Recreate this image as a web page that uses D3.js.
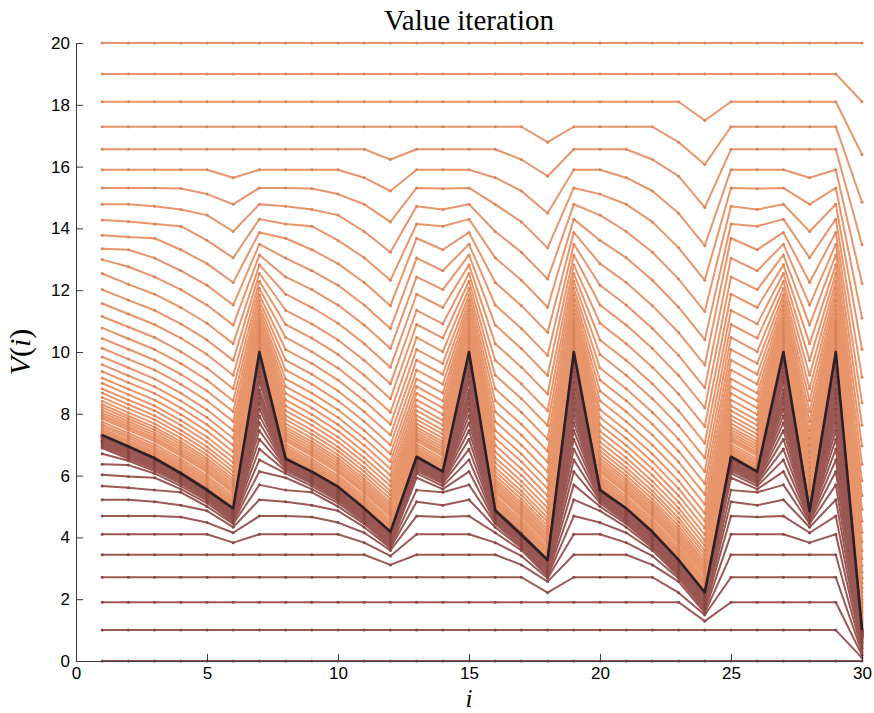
<!DOCTYPE html>
<html>
<head>
<meta charset="utf-8">
<script src="https://cdn.jsdelivr.net/npm/d3@7/dist/d3.min.js"></script>
<style>
    body { margin: 0; background: #fff; }
    .axis text { font-family: "Liberation Sans", Arial, sans-serif; font-size: 17px; fill: #000; }
    .axis path, .axis line { stroke: #3a3a3a; }
    .label { font-family: "Liberation Serif", "Times New Roman", serif; fill: #000; }
</style>
</head>
<body>
<div id="chart"></div>
<script>

// state index i
let states = [1, 2, 3, 4, 5, 6, 7, 8, 9, 10, 11, 12, 13, 14, 15, 16, 17, 18, 19, 20, 21, 22, 23, 24, 25, 26, 27, 28, 29, 30];

let xTicks = [0, 5, 10, 15, 20, 25, 30];
let yTicks = [0, 2, 4, 6, 8, 10, 12, 14, 16, 18, 20];

// converged value V*(i)
let vStar = [7.31, 6.94, 6.56, 6.07, 5.53, 4.94, 10, 6.54, 6.13, 5.64, 4.94, 4.18, 6.61, 6.13, 10, 4.87, 4.08, 3.27, 10, 5.53, 4.94, 4.18, 3.27, 2.22, 6.61, 6.13, 10, 4.85, 10, 1.0];

// iterates started from V = 20
let fromAbove = [
    [20,20,20,20,20,20,20,20,20,20,20,20,20,20,20,20,20,20,20,20,20,20,20,20,20,20,20,20,20,20],
    [19,19,19,19,19,19,19,19,19,19,19,19,19,19,19,19,19,19,19,19,19,19,19,19,19,19,19,19,19,18.1],
    [18.1,18.1,18.1,18.1,18.1,18.1,18.1,18.1,18.1,18.1,18.1,18.1,18.1,18.1,18.1,18.1,18.1,18.1,18.1,18.1,18.1,18.1,18.1,17.49,18.1,18.1,18.1,18.1,18.1,16.39],
    [17.29,17.29,17.29,17.29,17.29,17.29,17.29,17.29,17.29,17.29,17.29,17.29,17.29,17.29,17.29,17.29,17.29,16.79,17.29,17.29,17.29,17.29,16.79,16.07,17.29,17.29,17.29,17.29,17.29,14.85],
    [16.56,16.56,16.56,16.56,16.56,16.56,16.56,16.56,16.56,16.56,16.56,16.23,16.56,16.56,16.56,16.56,16.23,15.69,16.56,16.56,16.56,16.23,15.69,14.68,16.56,16.56,16.56,16.56,16.56,13.47],
    [15.9,15.9,15.9,15.9,15.9,15.64,15.9,15.9,15.9,15.9,15.64,15.21,15.9,15.9,15.9,15.64,15.21,14.49,15.9,15.9,15.64,15.21,14.49,13.44,15.9,15.9,15.9,15.64,15.9,12.22],
    [15.31,15.31,15.31,15.29,15.11,14.78,15.31,15.31,15.29,15.11,14.78,14.21,15.31,15.29,15.31,14.78,14.21,13.37,15.31,15.11,14.78,14.21,13.37,12.32,15.31,15.29,15.31,14.78,15.31,11.1],
    [14.78,14.78,14.72,14.61,14.43,13.9,14.78,14.72,14.61,14.43,13.9,13.23,14.72,14.61,14.78,13.9,13.23,12.36,14.78,14.43,13.9,13.23,12.36,11.31,14.72,14.61,14.78,13.9,14.78,10.09],
    [14.27,14.22,14.14,14.07,13.61,13.05,14.3,14.14,14.07,13.61,13.05,12.32,14.14,14.07,14.3,13.05,12.32,11.45,14.3,13.61,13.05,12.32,11.45,10.4,14.14,14.07,14.3,13.05,14.3,9.18],
    [13.78,13.72,13.68,13.31,12.86,12.25,13.87,13.68,13.31,12.86,12.25,11.5,13.68,13.31,13.87,12.25,11.5,10.63,13.87,12.86,12.25,11.5,10.63,9.58,13.68,13.31,13.87,12.25,13.87,8.36],
    [13.34,13.31,13.04,12.63,12.16,11.52,13.49,13.04,12.63,12.16,11.52,10.76,13.04,12.63,13.49,11.52,10.76,9.89,13.49,12.16,11.52,10.76,9.89,8.84,13.04,12.63,13.49,11.52,13.49,7.63],
    [12.99,12.76,12.43,12.02,11.52,10.87,13.14,12.43,12.02,11.52,10.87,10.11,12.43,12.02,13.14,10.87,10.11,9.24,13.14,11.52,10.87,10.11,9.24,8.19,12.43,12.02,13.14,10.87,13.14,6.96],
    [12.54,12.19,11.87,11.44,10.93,10.27,12.82,11.87,11.44,10.93,10.27,9.51,11.87,11.44,12.82,10.27,9.51,8.64,12.82,10.93,10.27,9.51,8.64,7.59,11.87,11.44,12.82,10.27,12.82,6.37],
    [12.02,11.68,11.35,10.91,10.39,9.73,12.54,11.35,10.91,10.39,9.73,8.97,11.35,10.91,12.54,9.73,8.97,8.1,12.54,10.39,9.73,8.97,8.1,7.05,11.35,10.91,12.54,9.73,12.54,5.83],
    [11.57,11.23,10.89,10.45,9.92,9.25,12.29,10.89,10.45,9.92,9.25,8.49,10.89,10.45,12.29,9.25,8.49,7.62,12.29,9.92,9.25,8.49,7.62,6.57,10.89,10.45,12.29,9.25,12.29,5.35],
    [11.15,10.81,10.47,10.01,9.48,8.81,12.06,10.47,10.01,9.48,8.81,8.05,10.47,10.01,12.06,8.81,8.05,7.18,12.06,9.48,8.81,8.05,7.18,6.13,10.47,10.01,12.06,8.81,12.06,4.91],
    [10.78,10.43,10.08,9.63,9.09,8.42,11.85,10.08,9.63,9.09,8.42,7.66,10.08,9.63,11.85,8.42,7.66,6.79,11.85,9.09,8.42,7.66,6.79,5.74,10.08,9.63,11.85,8.42,11.85,4.52],
    [10.44,10.09,9.74,9.28,8.74,8.07,11.67,9.74,9.28,8.74,8.07,7.31,9.74,9.28,11.67,8.07,7.31,6.44,11.67,8.74,8.07,7.31,6.44,5.39,9.74,9.28,11.67,8.07,11.67,4.17],
    [10.12,9.77,9.42,8.96,8.42,7.75,11.5,9.42,8.96,8.42,7.75,6.99,9.42,8.96,11.5,7.75,6.99,6.12,11.5,8.42,7.75,6.99,6.12,5.07,9.42,8.96,11.5,7.75,11.5,3.85],
    [9.84,9.49,9.13,8.67,8.13,7.46,11.35,9.13,8.67,8.13,7.46,6.7,9.13,8.67,11.35,7.46,6.7,5.83,11.35,8.13,7.46,6.7,5.83,4.78,9.13,8.67,11.35,7.46,11.35,3.57],
    [9.59,9.23,8.88,8.42,7.88,7.21,11.22,8.88,8.42,7.88,7.21,6.45,8.88,8.42,11.22,7.21,6.45,5.58,11.22,7.88,7.21,6.45,5.58,4.53,8.88,8.42,11.22,7.21,11.22,3.31],
    [9.37,9.01,8.66,8.19,7.65,6.98,11.09,8.66,8.19,7.65,6.98,6.22,8.66,8.19,11.09,6.98,6.22,5.35,11.09,7.65,6.98,6.22,5.35,4.3,8.66,8.19,11.09,6.98,11.09,3.08],
    [9.16,8.8,8.45,7.98,7.44,6.77,10.99,8.45,7.98,7.44,6.77,6.01,8.45,7.98,10.99,6.77,6.01,5.14,10.99,7.44,6.77,6.01,5.14,4.09,8.45,7.98,10.99,6.77,10.99,2.87],
    [8.99,8.62,8.26,7.79,7.25,6.58,10.89,8.26,7.79,7.25,6.58,5.82,8.26,7.79,10.89,6.58,5.82,4.95,10.89,7.25,6.58,5.82,4.95,3.9,8.26,7.79,10.89,6.58,10.89,2.68],
    [8.81,8.45,8.1,7.63,7.09,6.42,10.8,8.1,7.63,7.09,6.42,5.66,8.1,7.63,10.8,6.42,5.66,4.79,10.8,7.09,6.42,5.66,4.79,3.74,8.1,7.63,10.8,6.42,10.8,2.52],
    [8.67,8.3,7.94,7.47,6.93,6.26,10.72,7.94,7.47,6.93,6.26,5.5,7.94,7.47,10.72,6.26,5.5,4.63,10.72,6.93,6.26,5.5,4.63,3.58,7.94,7.47,10.72,6.26,10.72,2.36],
    [8.53,8.17,7.81,7.34,6.8,6.13,10.65,7.81,7.34,6.8,6.13,5.37,7.81,7.34,10.65,6.13,5.37,4.5,10.65,6.8,6.13,5.37,4.5,3.45,7.81,7.34,10.65,6.13,10.65,2.23],
    [8.41,8.04,7.68,7.21,6.67,6,10.58,7.68,7.21,6.67,6,5.24,7.68,7.21,10.58,6,5.24,4.37,10.58,6.67,6,5.24,4.37,3.32,7.68,7.21,10.58,6,10.58,2.1],
    [8.3,7.93,7.57,7.1,6.56,5.89,10.52,7.57,7.1,6.56,5.89,5.13,7.57,7.1,10.52,5.89,5.13,4.26,10.52,6.56,5.89,5.13,4.26,3.21,7.57,7.1,10.52,5.89,10.52,1.99],
    [8.21,7.84,7.48,7.01,6.47,5.8,10.47,7.48,7.01,6.47,5.8,5.04,7.48,7.01,10.47,5.8,5.04,4.17,10.47,6.47,5.8,5.04,4.17,3.12,7.48,7.01,10.47,5.8,10.47,1.9],
    [8.12,7.75,7.39,6.92,6.38,5.71,10.42,7.39,6.92,6.38,5.71,4.95,7.39,6.92,10.42,5.71,4.95,4.08,10.42,6.38,5.71,4.95,4.08,3.03,7.39,6.92,10.42,5.71,10.42,1.81],
    [8.04,7.67,7.31,6.84,6.3,5.63,10.38,7.31,6.84,6.3,5.63,4.87,7.31,6.84,10.38,5.63,4.87,4,10.38,6.3,5.63,4.87,4,2.95,7.31,6.84,10.38,5.63,10.38,1.73],
    [7.96,7.59,7.23,6.76,6.22,5.55,10.34,7.23,6.76,6.22,5.55,4.79,7.23,6.76,10.34,5.55,4.79,3.92,10.34,6.22,5.55,4.79,3.92,2.87,7.23,6.76,10.34,5.55,10.34,1.65],
    [7.9,7.53,7.17,6.7,6.16,5.49,10.31,7.17,6.7,6.16,5.49,4.73,7.17,6.7,10.31,5.49,4.73,3.86,10.31,6.16,5.49,4.73,3.86,2.81,7.17,6.7,10.31,5.49,10.31,1.59],
    [7.84,7.47,7.11,6.64,6.1,5.43,10.28,7.11,6.64,6.1,5.43,4.67,7.11,6.64,10.28,5.43,4.67,3.8,10.28,6.1,5.43,4.67,3.8,2.75,7.11,6.64,10.28,5.43,10.28,1.53],
    [7.74,7.37,7.01,6.54,6,5.33,10.23,7.01,6.54,6,5.33,4.57,7.01,6.54,10.23,5.33,4.57,3.7,10.23,6,5.33,4.57,3.7,2.65,7.01,6.54,10.23,5.33,10.23,1.43],
    [7.66,7.29,6.93,6.46,5.92,5.25,10.18,6.93,6.46,5.92,5.25,4.49,6.93,6.46,10.18,5.25,4.49,3.62,10.18,5.92,5.25,4.49,3.62,2.57,6.93,6.46,10.18,5.25,10.18,1.35],
    [7.59,7.22,6.86,6.39,5.85,5.18,10.15,6.86,6.39,5.85,5.18,4.42,6.86,6.39,10.15,5.18,4.42,3.55,10.15,5.85,5.18,4.42,3.55,2.5,6.86,6.39,10.15,5.18,10.15,1.28],
    [7.52,7.15,6.79,6.32,5.78,5.11,10.11,6.79,6.32,5.78,5.11,4.35,6.79,6.32,10.11,5.11,4.35,3.48,10.11,5.78,5.11,4.35,3.48,2.43,6.79,6.32,10.11,5.11,10.11,1.21],
    [7.46,7.09,6.73,6.26,5.72,5.05,10.08,6.73,6.26,5.72,5.05,4.29,6.73,6.26,10.08,5.05,4.29,3.42,10.08,5.72,5.05,4.29,3.42,2.37,6.73,6.26,10.08,5.05,10.08,1.15],
    [7.41,7.04,6.68,6.21,5.67,5,10.05,6.68,6.21,5.67,5,4.24,6.68,6.21,10.05,5,4.24,3.37,10.05,5.67,5,4.24,3.37,2.32,6.68,6.21,10.05,5,10.05,1.1],
    [7.37,7,6.64,6.17,5.63,4.96,10.03,6.64,6.17,5.63,4.96,4.2,6.64,6.17,10.03,4.96,4.2,3.33,10.03,5.63,4.96,4.2,3.33,2.28,6.64,6.17,10.03,4.96,10.03,1.06],
    [7.34,6.97,6.61,6.14,5.6,4.93,10.02,6.61,6.14,5.6,4.93,4.17,6.61,6.14,10.02,4.93,4.17,3.3,10.02,5.6,4.93,4.17,3.3,2.25,6.61,6.14,10.02,4.93,10.02,1.03]
];

// iterates started from V = 0
let fromBelow = [
    [0,0,0,0,0,0,0,0,0,0,0,0,0,0,0,0,0,0,0,0,0,0,0,0,0,0,0,0,0,0],
    [1,1,1,1,1,1,1,1,1,1,1,1,1,1,1,1,1,1,1,1,1,1,1,1,1,1,1,1,1,0.1],
    [1.9,1.9,1.9,1.9,1.9,1.9,1.9,1.9,1.9,1.9,1.9,1.9,1.9,1.9,1.9,1.9,1.9,1.9,1.9,1.9,1.9,1.9,1.9,1.29,1.9,1.9,1.9,1.9,1.9,0.19],
    [2.71,2.71,2.71,2.71,2.71,2.71,2.71,2.71,2.71,2.71,2.71,2.71,2.71,2.71,2.71,2.71,2.71,2.21,2.71,2.71,2.71,2.71,2.21,1.49,2.71,2.71,2.71,2.71,2.71,0.27],
    [3.44,3.44,3.44,3.44,3.44,3.44,3.44,3.44,3.44,3.44,3.44,3.11,3.44,3.44,3.44,3.44,3.11,2.57,3.44,3.44,3.44,3.11,2.57,1.56,3.44,3.44,3.44,3.44,3.44,0.34],
    [4.1,4.1,4.1,4.1,4.1,3.83,4.1,4.1,4.1,4.1,3.83,3.4,4.1,4.1,4.1,3.83,3.4,2.68,4.1,4.1,3.83,3.4,2.68,1.63,4.1,4.1,4.1,3.83,4.1,0.41],
    [4.69,4.69,4.69,4.66,4.48,4.15,4.69,4.69,4.66,4.48,4.15,3.58,4.69,4.66,4.69,4.15,3.58,2.74,4.69,4.48,4.15,3.58,2.74,1.69,4.69,4.66,4.69,4.15,4.69,0.47],
    [5.22,5.22,5.15,5.04,4.86,4.33,5.22,5.15,5.04,4.86,4.33,3.66,5.15,5.04,5.22,4.33,3.66,2.79,5.22,4.86,4.33,3.66,2.79,1.74,5.15,5.04,5.22,4.33,5.22,0.52],
    [5.66,5.61,5.53,5.46,5,4.44,5.7,5.53,5.46,5,4.44,3.71,5.53,5.46,5.7,4.44,3.71,2.84,5.7,5,4.44,3.71,2.84,1.79,5.53,5.46,5.7,4.44,5.7,0.57],
    [6.03,5.97,5.93,5.56,5.11,4.5,6.13,5.93,5.56,5.11,4.5,3.75,5.93,5.56,6.13,4.5,3.75,2.88,6.13,5.11,4.5,3.75,2.88,1.83,5.93,5.56,6.13,4.5,6.13,0.61],
    [6.37,6.34,6.07,5.66,5.19,4.55,6.51,6.07,5.66,5.19,4.55,3.79,6.07,5.66,6.51,4.55,3.79,2.92,6.51,5.19,4.55,3.79,2.92,1.87,6.07,5.66,6.51,4.55,6.51,0.65],
    [6.71,6.48,6.15,5.74,5.24,4.59,6.86,6.15,5.74,5.24,4.59,3.83,6.15,5.74,6.86,4.59,3.83,2.96,6.86,5.24,4.59,3.83,2.96,1.91,6.15,5.74,6.86,4.59,6.86,0.69],
    [6.89,6.54,6.22,5.79,5.28,4.62,7.18,6.22,5.79,5.28,4.62,3.86,6.22,5.79,7.18,4.62,3.86,2.99,7.18,5.28,4.62,3.86,2.99,1.94,6.22,5.79,7.18,4.62,7.18,0.72],
    [6.94,6.6,6.27,5.83,5.31,4.65,7.46,6.27,5.83,5.31,4.65,3.89,6.27,5.83,7.46,4.65,3.89,3.02,7.46,5.31,4.65,3.89,3.02,1.97,6.27,5.83,7.46,4.65,7.46,0.75],
    [6.99,6.65,6.31,5.87,5.34,4.67,7.71,6.31,5.87,5.34,4.67,3.91,6.31,5.87,7.71,4.67,3.91,3.04,7.71,5.34,4.67,3.91,3.04,1.99,6.31,5.87,7.71,4.67,7.71,0.77],
    [7.03,6.69,6.35,5.89,5.36,4.69,7.94,6.35,5.89,5.36,4.69,3.93,6.35,5.89,7.94,4.69,3.93,3.06,7.94,5.36,4.69,3.93,3.06,2.01,6.35,5.89,7.94,4.69,7.94,0.79],
    [7.07,6.72,6.37,5.92,5.38,4.71,8.15,6.37,5.92,5.38,4.71,3.95,6.37,5.92,8.15,4.71,3.95,3.08,8.15,5.38,4.71,3.95,3.08,2.03,6.37,5.92,8.15,4.71,8.15,0.81],
    [7.1,6.75,6.4,5.94,5.4,4.73,8.33,6.4,5.94,5.4,4.73,3.97,6.4,5.94,8.33,4.73,3.97,3.1,8.33,5.4,4.73,3.97,3.1,2.05,6.4,5.94,8.33,4.73,8.33,0.83],
    [7.12,6.77,6.42,5.96,5.42,4.75,8.5,6.42,5.96,5.42,4.75,3.99,6.42,5.96,8.5,4.75,3.99,3.12,8.5,5.42,4.75,3.99,3.12,2.07,6.42,5.96,8.5,4.75,8.5,0.85],
    [7.14,6.79,6.43,5.97,5.43,4.76,8.65,6.43,5.97,5.43,4.76,4,6.43,5.97,8.65,4.76,4,3.13,8.65,5.43,4.76,4,3.13,2.08,6.43,5.97,8.65,4.76,8.65,0.86],
    [7.16,6.8,6.45,5.99,5.45,4.78,8.78,6.45,5.99,5.45,4.78,4.02,6.45,5.99,8.78,4.78,4.02,3.15,8.78,5.45,4.78,4.02,3.15,2.1,6.45,5.99,8.78,4.78,8.78,0.88],
    [7.19,6.83,6.48,6.01,5.47,4.8,9.02,6.48,6.01,5.47,4.8,4.04,6.48,6.01,9.02,4.8,4.04,3.17,9.02,5.47,4.8,4.04,3.17,2.12,6.48,6.01,9.02,4.8,9.02,0.9],
    [7.22,6.86,6.5,6.03,5.49,4.82,9.2,6.5,6.03,5.49,4.82,4.06,6.5,6.03,9.2,4.82,4.06,3.19,9.2,5.49,4.82,4.06,3.19,2.14,6.5,6.03,9.2,4.82,9.2,0.92],
    [7.24,6.88,6.52,6.05,5.51,4.84,9.35,6.52,6.05,5.51,4.84,4.08,6.52,6.05,9.35,4.84,4.08,3.21,9.35,5.51,4.84,4.08,3.21,2.16,6.52,6.05,9.35,4.84,9.35,0.94],
    [7.26,6.89,6.53,6.06,5.52,4.85,9.48,6.53,6.06,5.52,4.85,4.09,6.53,6.06,9.48,4.85,4.09,3.22,9.48,5.52,4.85,4.09,3.22,2.17,6.53,6.06,9.48,4.85,9.48,0.95],
    [7.27,6.9,6.54,6.07,5.53,4.86,9.62,6.54,6.07,5.53,4.86,4.1,6.54,6.07,9.62,4.86,4.1,3.23,9.62,5.53,4.86,4.1,3.23,2.18,6.54,6.07,9.62,4.86,9.62,0.96],
    [7.28,6.91,6.55,6.08,5.54,4.87,9.72,6.55,6.08,5.54,4.87,4.11,6.55,6.08,9.72,4.87,4.11,3.24,9.72,5.54,4.87,4.11,3.24,2.19,6.55,6.08,9.72,4.87,9.72,0.97],
    [7.29,6.92,6.56,6.09,5.55,4.88,9.82,6.56,6.09,5.55,4.88,4.12,6.56,6.09,9.82,4.88,4.12,3.25,9.82,5.55,4.88,4.12,3.25,2.2,6.56,6.09,9.82,4.88,9.82,0.98],
    [7.3,6.93,6.57,6.1,5.56,4.89,9.89,6.57,6.1,5.56,4.89,4.13,6.57,6.1,9.89,4.89,4.13,3.26,9.89,5.56,4.89,4.13,3.26,2.21,6.57,6.1,9.89,4.89,9.89,0.99],
    [7.3,6.93,6.57,6.1,5.56,4.89,9.95,6.57,6.1,5.56,4.89,4.13,6.57,6.1,9.95,4.89,4.13,3.26,9.95,5.56,4.89,4.13,3.26,2.21,6.57,6.1,9.95,4.89,9.95,0.99]
];


class ValueIterVis {

    constructor(_parentElement) {
        this.parentElement = _parentElement;
        this.initVis();
    }

    initVis() {
        let vis = this;

        vis.margin = { top: 43, right: 12, bottom: 52, left: 76 };
        vis.width = 874 - vis.margin.left - vis.margin.right;
        vis.height = 713 - vis.margin.top - vis.margin.bottom;

        vis.svg = d3.select("#" + vis.parentElement).append("svg")
            .attr("width", 874)
            .attr("height", 713)
            .append("g")
            .attr("transform", "translate(" + vis.margin.left + "," + vis.margin.top + ")");

        vis.x = d3.scaleLinear().domain([0, 30]).range([0, vis.width]);
        vis.y = d3.scaleLinear().domain([0, 20]).range([vis.height, 0]);

        vis.line = d3.line()
            .x((d, i) => vis.x(states[i]))
            .y(d => vis.y(d));

        vis.updateVis();
    }

    drawRuns(runs, cls, color, dotColor) {
        let vis = this;

        let g = vis.svg.append("g").attr("class", cls);

        g.selectAll("path")
            .data(runs)
            .enter()
            .append("path")
            .attr("fill", "none")
            .attr("stroke", color)
            .attr("stroke-width", 2)
            .attr("stroke-linejoin", "round")
            .attr("d", vis.line);

        // small point markers
        g.selectAll("g.pts")
            .data(runs)
            .enter()
            .append("g")
            .attr("class", "pts")
            .selectAll("circle")
            .data(d => d)
            .enter()
            .append("circle")
            .attr("cx", (d, i) => vis.x(states[i]))
            .attr("cy", d => vis.y(d))
            .attr("r", 1.5)
            .attr("fill", dotColor);
    }

    updateVis() {
        let vis = this;

        vis.drawRuns(fromAbove, "above", "#e8956b", "#d9845a");
        vis.drawRuns(fromBelow, "below", "#9b5854", "#8a4944");

        vis.svg.append("path")
            .datum(vStar)
            .attr("fill", "none")
            .attr("stroke", "#2d2129")
            .attr("stroke-width", 2.6)
            .attr("stroke-linejoin", "round")
            .attr("d", vis.line);

        // axes, ticks pointing inward
        vis.svg.append("g")
            .attr("class", "axis y-axis")
            .call(d3.axisLeft(vis.y).tickValues(yTicks).tickSizeInner(-7).tickSizeOuter(0).tickPadding(6));

        vis.svg.append("g")
            .attr("class", "axis x-axis")
            .attr("transform", "translate(0," + vis.height + ")")
            .call(d3.axisBottom(vis.x).tickValues(xTicks).tickSizeInner(-7).tickSizeOuter(0).tickPadding(6));

        // title and axis titles
        vis.svg.append("text")
            .attr("class", "label")
            .attr("x", vis.width / 2)
            .attr("y", -13)
            .attr("text-anchor", "middle")
            .style("font-size", "29px")
            .text("Value iteration");

        let yl = vis.svg.append("text")
            .attr("class", "label")
            .attr("transform", "translate(-46," + (vis.height / 2) + ") rotate(-90)")
            .attr("text-anchor", "middle")
            .style("font-size", "30px");
        yl.append("tspan").style("font-style", "italic").text("V");
        yl.append("tspan").text("(");
        yl.append("tspan").style("font-style", "italic").text("i");
        yl.append("tspan").text(")");

        vis.svg.append("text")
            .attr("class", "label")
            .attr("x", vis.width / 2)
            .attr("y", vis.height + 46)
            .attr("text-anchor", "middle")
            .style("font-size", "25px")
            .style("font-style", "italic")
            .text("i");
    }
}

new ValueIterVis("chart");
</script>
</body>
</html>
